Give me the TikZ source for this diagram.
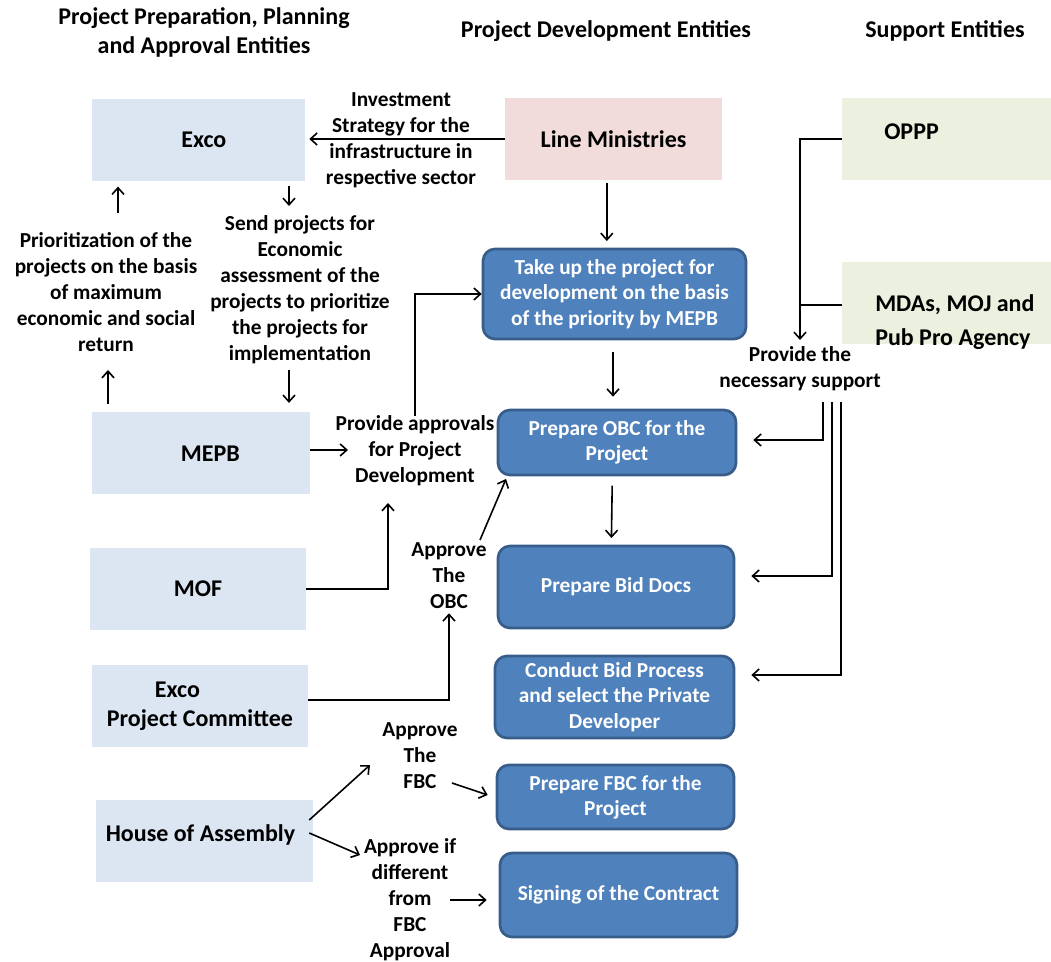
\documentclass[tikz,border=0pt]{standalone}
\usepackage{fontspec}
\setmainfont{Carlito}
\usetikzlibrary{arrows.meta}
\definecolor{prepblue}{HTML}{DCE6F2}
\definecolor{minpink}{HTML}{F2DCDB}
\definecolor{suppgreen}{HTML}{EBF1DE}
\definecolor{devfill}{HTML}{4F81BD}
\definecolor{devedge}{HTML}{385D8A}

\begin{document}
\begin{tikzpicture}[x=0.75pt,y=-0.75pt,
    every node/.style={font=\bfseries\fontsize{16}{19.5}\selectfont},
    lbl/.style={align=center, inner sep=0pt},
    prepbox/.style={fill=prepblue, minimum width=#1, minimum height=61.5pt, align=center, font=\bfseries\fontsize{18}{22}\selectfont},
    prepbox/.default=162pt,
    minbox/.style={fill=minpink, minimum width=162.75pt, minimum height=61.5pt, font=\bfseries\fontsize{18}{22}\selectfont},
    suppbox/.style={fill=suppgreen, minimum width=156.75pt, minimum height=61.5pt},
    devbox/.style={fill=devfill, draw=devedge, line width=2pt, rounded corners=9pt,
      text=white, align=center, minimum height=#1, font=\bfseries\fontsize{16}{19}\selectfont},
    devbox/.default=61.5pt,
    conn/.style={line width=1.2pt, -{Straight Barb[length=5pt,width=9pt,line width=1.2pt]}},
    plain/.style={line width=1.2pt},
    head/.style={align=center, inner sep=0pt, font=\bfseries\fontsize{18}{21.75}\selectfont}]
\useasboundingbox (0,0) rectangle (1051,962);

% headings
\node[head] (h1) at (204,32) {Project Preparation, Planning\\and Approval Entities};
\node[head] (h2) at (606,31) {Project Development Entities};
\node[head] (h3) at (945,31) {Support Entities};

% left column
\node[prepbox=159.75pt] (exco) at (198.5,140) {\hspace*{8pt}Exco};
\node[prepbox=163.5pt] (mepb) at (201,453.5) {\hspace*{14pt}MEPB};
\node[prepbox] (mof) at (198,589) {MOF};
\node[prepbox, align=left] (epc) at (200,706) {\hspace*{36pt}Exco\\Project Committee};
\node[prepbox=162.75pt, text height=12pt, text depth=11.5pt] (house) at (204.5,841) {House of Assembly\hspace*{6pt}};

% middle column
\node[minbox] (lmin) at (613.5,139) {Line Ministries};
\node[devbox=67.5pt, minimum width=197.25pt] (takeup) at (614.5,294) {Take up the project for\\development on the basis\\of the priority by MEPB};
\node[devbox=48.75pt, minimum width=178.5pt] (obc) at (617,442.5) {Prepare OBC for the\\Project};
\node[devbox, minimum width=177pt] (bid) at (616,587) {Prepare Bid Docs};
\node[devbox, minimum width=179.25pt] (conduct) at (614.5,697) {Conduct Bid Process\\and select the Private\\Developer};
\node[devbox=48pt, minimum width=177.75pt] (fbc) at (615.5,797) {Prepare FBC for the\\Project};
\node[devbox=63pt, minimum width=177.75pt] (sign) at (618.5,895) {Signing of the Contract};

% right column
\node[suppbox] (oppp) at (946.5,139) {};
\node[anchor=west, inner sep=0pt, font=\bfseries\fontsize{18}{22}\selectfont] (opppt) at (884,132) {OPPP};
\node[suppbox] (mdas) at (946.5,303) {};
\node[anchor=west, align=left, inner sep=0pt, font=\bfseries\fontsize{18}{25}\selectfont] (mdast) at (875,322) {MDAs, MOJ and\\Pub Pro Agency};

% connector labels
\node[lbl] (invest) at (401,140) {Investment\\Strategy for the\\infrastructure in\\respective sector};
\node[lbl] (send) at (300,290) {Send projects for\\Economic\\assessment of the\\projects to prioritize\\the projects for\\implementation};
\node[lbl] (prio) at (106,292) {Prioritization of the\\projects on the basis\\of maximum\\economic and social\\return};
\node[lbl] (appr) at (415,451) {Provide approvals\\for Project\\Development};
\node[lbl] (aobc) at (449,576) {Approve\\The\\OBC};
\node[lbl] (afbc) at (420,756) {Approve\\The\\FBC};
\node[lbl] (adiff) at (410,900) {Approve if\\different\\from\\FBC\\Approval};
\node[lbl] (prov) at (800,369) {Provide the\\necessary support};

% free ends and bends
\coordinate (excodn) at (289,186);
\coordinate (sendin) at (289,206);
\coordinate (sendout) at (289,370);
\coordinate (priotop) at (118,213);
\coordinate (priobot) at (108,370);
\coordinate (apprin) at (352,450);
\coordinate (mofin) at (388,503);
\coordinate (aobcout) at (480,540);
\coordinate (afbcin) at (370,765);
\coordinate (afbcout) at (452,783);
\coordinate (adiffin) at (360,855);
\coordinate (adiffout) at (450,900);
\coordinate (provin) at (800,340);
\coordinate (s1) at (823,402);
\coordinate (s2) at (832,402);
\coordinate (s3) at (841,402);

% connectors
\draw[conn] (lmin.west) -- ([xshift=3pt]lmin.west -| exco.east);
\draw[conn] (excodn) -- (sendin);
\draw[conn] (sendout) -- ([yshift=7pt]sendout |- mepb.north);
\draw[conn] (priotop) -- ([yshift=-4pt]priotop |- exco.south);
\draw[conn] (priobot |- mepb.north) ++(0,-8) -- (priobot);
\draw[conn] ([xshift=-5pt,yshift=-2pt]lmin.south) -- ([xshift=-5pt,yshift=5pt]takeup.north -| lmin.south);
\draw[conn, shorten <=9pt, shorten >=9pt] ([xshift=-3pt]takeup.south -| obc.north) -- ([xshift=-3pt]obc.north);
\draw[conn, shorten <=7pt, shorten >=5pt] ([xshift=-3.5pt]obc.south) -- ([xshift=-3.5pt]bid.north);
\draw[conn, shorten >=3pt] (mepb.east |- apprin) -- (apprin);
\draw[conn] (appr.north) |- (takeup.west);
\draw[conn] (mof.east) -| (mofin);
\draw[conn] (aobcout) -- ([xshift=7pt,yshift=-2pt]obc.south west);
\draw[conn, shorten >=3pt] (epc.east |- 0,700) -| (aobc.south);
\draw[conn] (house.east |- 0,820) ++(-4,0) -- (afbcin);
\draw[conn] (afbcout) -- ([xshift=-6pt]fbc.west |- 0,795);
\draw[conn] (house.east |- 0,833) ++(-4,0) -- (adiffin);
\draw[conn] (adiffout) -- ([xshift=-9pt]sign.west |- adiffout);
\draw[conn] (oppp.west) -| (provin);
\draw[plain] (mdas.west |- 0,305) -- (provin |- 0,305);
\draw[conn, shorten >=12pt] (s1) |- (obc.east |- 0,440);
\draw[conn, shorten >=12pt] (s2) |- (bid.east |- 0,576);
\draw[conn, shorten >=12pt] (s3) |- (conduct.east |- 0,675);
\end{tikzpicture}
\end{document}
